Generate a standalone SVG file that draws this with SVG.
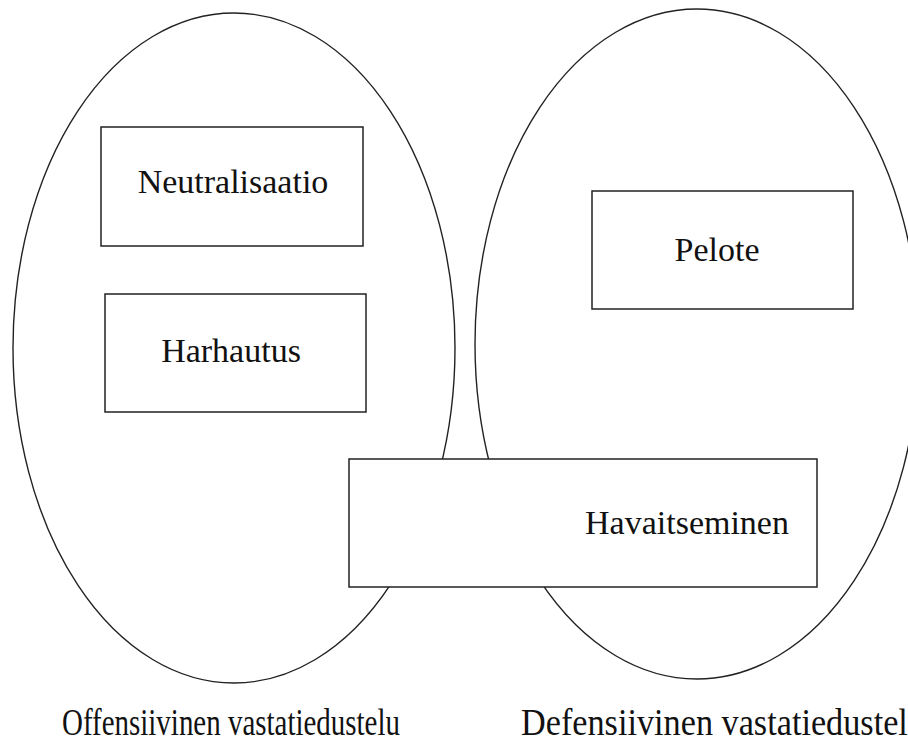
<svg xmlns="http://www.w3.org/2000/svg" width="908" height="742" viewBox="0 0 908 742">
<style>
.ell{fill:none;stroke:#222;stroke-width:1.4}
.box{fill:#fff;stroke:#222;stroke-width:1.5}
.t{font-family:"Liberation Serif","Times New Roman",serif;font-size:34px;fill:#111}
.b{font-size:38px}
.m{text-anchor:middle}
</style>
<rect width="908" height="742" fill="#fff"/>
<g id="offensive">
<ellipse class="ell" cx="234" cy="348" rx="221" ry="335"/>
<text class="t b" x="62" y="735" textLength="338" lengthAdjust="spacingAndGlyphs">Offensiivinen vastatiedustelu</text>
</g>
<g id="defensive">
<ellipse class="ell" cx="697" cy="344" rx="222" ry="335"/>
<text class="t b" x="521" y="735" textLength="404" lengthAdjust="spacingAndGlyphs">Defensiivinen vastatiedustelu</text>
</g>
<g id="neutralisaatio">
<rect class="box" x="101" y="127" width="262" height="119"/>
<text class="t m" x="233" y="193">Neutralisaatio</text>
</g>
<g id="harhautus">
<rect class="box" x="105" y="294" width="261" height="118"/>
<text class="t m" x="231" y="362">Harhautus</text>
</g>
<g id="pelote">
<rect class="box" x="592" y="191" width="261" height="118"/>
<text class="t m" x="717" y="261">Pelote</text>
</g>
<g id="havaitseminen">
<rect class="box" x="349" y="459" width="468" height="128"/>
<text class="t m" x="687" y="534">Havaitseminen</text>
</g>
<g id="connectors"></g>
</svg>
